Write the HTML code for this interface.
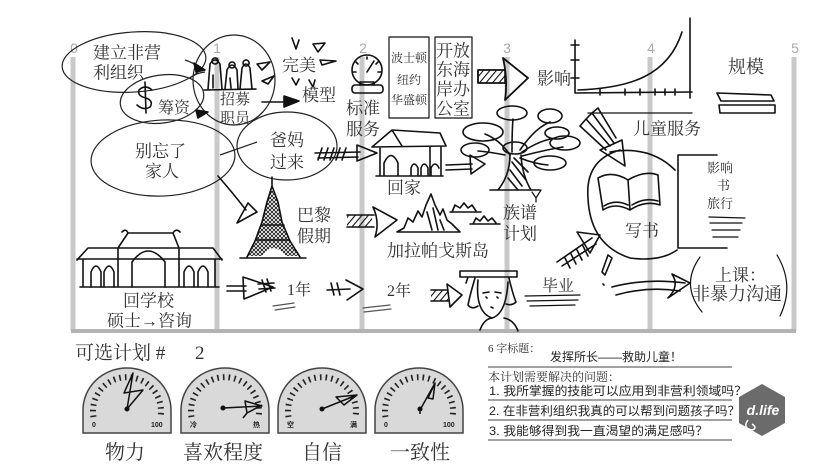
<!DOCTYPE html>
<html><head><meta charset="utf-8">
<style>
html,body{margin:0;padding:0;background:#fff;}
svg{display:block;}
.t{font-family:"Liberation Serif","Noto Serif CJK SC",serif;fill:#333;}
.s{font-family:"Liberation Sans","Noto Sans CJK SC",sans-serif;}
</style></head><body>
<svg width="836" height="470" viewBox="0 0 836 470" xmlns="http://www.w3.org/2000/svg">
<defs>
<pattern id="h" patternUnits="userSpaceOnUse" width="5" height="5" patternTransform="rotate(40)"><line x1="0" y1="0" x2="0" y2="5" stroke="#111" stroke-width="2.2"/></pattern>
<pattern id="x" patternUnits="userSpaceOnUse" width="4" height="4"><path d="M0 0L4 4M4 0L0 4" stroke="#111" stroke-width="0.8"/></pattern>
</defs>
<rect width="836" height="470" fill="#fff"/>

<!-- grid bars -->
<g stroke="#c9c9c9" stroke-width="5">
<line x1="73" y1="57" x2="73" y2="331"/>
<line x1="217" y1="57" x2="217" y2="331"/>
<line x1="362" y1="57" x2="362" y2="331"/>
<line x1="507" y1="57" x2="507" y2="331"/>
<line x1="650" y1="57" x2="650" y2="331"/>
<line x1="794" y1="57" x2="794" y2="331"/>
</g>
<line x1="71" y1="331" x2="796" y2="331" stroke="#b3b3b3" stroke-width="4"/>
<g class="s" font-size="14" fill="#aaa" text-anchor="middle">
<text x="74" y="53">0</text><text x="217" y="53">1</text><text x="363" y="53">2</text>
<text x="507" y="53">3</text><text x="651" y="53">4</text><text x="795" y="53">5</text>
</g>

<g fill="none" stroke="#222" stroke-width="1.2">
<!-- ellipses -->
<ellipse cx="134" cy="62" rx="72" ry="30" transform="rotate(-4 134 62)"/>
<ellipse cx="162" cy="99" rx="42" ry="24" transform="rotate(-8 162 99)"/>
<ellipse cx="234" cy="80" rx="41" ry="45"/>
<ellipse cx="163" cy="158" rx="72" ry="38" transform="rotate(-3 163 158)"/>
<ellipse cx="287" cy="146" rx="50" ry="34"/>
<path d="M220 155 L257 142"/>
<path d="M185 60 Q192 62 200 68"/>
<path d="M190 78 Q196 73 205 72"/>
</g>

<g fill="none" stroke="#111" stroke-width="1.6" stroke-linecap="round" stroke-linejoin="round">
<!-- arrowheads top-left -->
<path d="M194 63 L205 70 L196 72 Z" fill="#111"/>
<path d="M196 110 L208 112 L198 118 Z" fill="#111"/>
<!-- $ sign -->
<path d="M152 90 Q145 84 139 90 Q137 96 146 98 Q154 101 150 107 Q144 111 137 105 M145 82 L146 113"/>
<!-- people -->
<path d="M208 89 L210 64 Q215 56 220 64 L222 89 M215 58 a3 3 0 1 0 0.1 0 M225 89 L227 70 Q232 60 237 70 L238 89 M232 62 a3 3 0 1 0 0.1 0 M240 89 L242 68 Q246 60 250 68 L252 89 M246 60 a3 3 0 1 0 0.1 0 M204 90 L256 89 M213 75 L213 88 M230 78 L231 88"/>
<!-- star around 完美 -->
<path d="M292 38 L296 49 L299 40 M313 44 L325 43 L318 52 Z M257 64 L270 62 L262 70 Z M262 81 L274 76 L268 84 Z M320 60 L336 61 L322 65 Z M292 78 L296 85 L299 79 M309 80 L313 87 L315 80"/>
<!-- black arrow to 模型 -->
<path d="M262 102 L286 102"/>
<path d="M284 96 L299 101 L284 107 Z" fill="#111"/>
<!-- hatched arrow 爸妈 -> 回家 -->
<path d="M315 153 L360 152 M318 158 L358 157"/>
<path d="M322 148 L318 160 M328 148 L324 160 M334 148 L330 160 M340 148 L336 160 M346 148 L342 160"/>
<path d="M357 145 L377 153 L357 161 Z"/>
<!-- clock -->
<circle cx="367" cy="70" r="15"/>
<path d="M367 72 L374 61 M356 62 L358 64 M367 57 L367 59 M378 62 L376 64 M353 72 L356 72 M381 72 L378 72"/>
<rect x="352" y="85" width="31" height="8" rx="3"/>
<path d="M360 85 L360 82 L374 82 L374 85"/>
<!-- boxes -->
<path d="M389 37 L429 37 L429 118 L389 118 Z" stroke-width="1.2"/>
<path d="M435 37 L472 37 L472 118 L435 118 Z" stroke-width="1.2"/>
<!-- hatched arrow 3 -->
<rect x="478" y="70" width="27" height="13" fill="url(#h)"/>
<path d="M478 70 L505 70 M478 83 L505 83 M478 70 L478 83"/>
<path d="M503 58 L528 78 L505 100 Q508 80 503 58 Z" stroke-width="1.8"/>
<!-- chart -->
<path d="M575 40 L575 93 L692 92 M571 45 L579 45 M571 60 L579 60 M571 78 L579 78 M600 89 L600 95 M625 89 L625 95 M640 89 L640 95 M655 89 L655 95 M665 89 L665 95 M675 89 L675 95"/>
<path d="M578 90 C630 88 668 76 682 32"/>
<path d="M690 18 L690 98"/>
<path d="M588 113 L692 113" stroke-width="1.3"/>
<!-- bars under 规模 -->
<path d="M717 93 L771 95 L774 101 L721 101 Z M719 105 L775 105 L775 113 L720 113 Z"/>
<!-- house 回家 -->
<path d="M372 147 L392 130 L440 133 L446 146 Z M392 130 L402 146 M380 147 L380 176 M430 147 L430 176 M441 146 L441 176 M376 176 L443 176 M384 176 L384 163 Q391 148 398 163 L398 176 M411 176 L411 168 Q414 160 418 168 L418 176 M421 176 L421 168 Q424 160 428 168 L428 176 M431 176 L431 168 Q435 160 439 168"/>
<!-- tree -->
<path d="M498 190 Q510 175 510 155 M531 190 Q522 175 521 155 M490 190 L540 190"/>
<path d="M512 162 L526 180 M510 170 L522 186 M508 178 L518 190 M514 158 L528 172"/>
<path d="M510 155 Q500 140 485 134 M512 152 Q512 130 513 119 M520 150 Q535 128 550 122 M522 152 Q540 140 556 138 M522 156 Q545 150 563 147 M520 158 Q535 164 548 165 M505 155 Q490 152 478 151"/>
<ellipse cx="512" cy="113" rx="15" ry="7"/>
<ellipse cx="483" cy="132" rx="20" ry="9"/>
<ellipse cx="475" cy="150" rx="14" ry="7"/>
<ellipse cx="550" cy="116" rx="12" ry="7"/>
<ellipse cx="557" cy="133" rx="12" ry="6"/>
<ellipse cx="565" cy="143" rx="15" ry="7"/>
<ellipse cx="550" cy="163" rx="16" ry="7"/>
<ellipse cx="515" cy="148" rx="12" ry="6"/>
<!-- arrow from 回家 to tree -->
<path d="M446 165 L472 164 M446 170 L472 169"/>
<path d="M470 155 L485 164 L471 174 Z"/>
<!-- wedge arrow into 写书 -->
<path d="M580 126 L606 150 M586 119 L610 146 M592 113 L614 143 M598 108 L616 138 M580 126 Q590 114 598 108"/>
<path d="M600 150 L622 140 L625 166 Z"/>
<!-- big circle 写书 -->
<path d="M610 152 Q650 145 675 170 M588 198 Q585 160 620 150 M588 198 Q590 245 630 258 Q660 262 677 250"/>
<!-- book -->
<path d="M598 178 Q612 170 628 180 L630 210 Q615 202 603 210 Z M628 180 Q645 170 658 175 L660 205 Q645 200 630 210 M604 206 Q615 199 628 205 M632 205 Q645 197 658 201"/>
<!-- bracket -->
<path d="M678 155 L717 155 M678 155 L678 248 L727 248"/>
<path d="M709 217 L745 218 M710 223 L742 223 M712 230 L740 230 M713 237 L738 237" stroke-width="1.3"/>
<!-- parens around 上课 -->
<path d="M700 257 Q680 285 702 312" stroke-width="1.2"/>
<path d="M777 255 Q795 285 780 316" stroke-width="1.2"/>
<!-- pen & arrow to 上课 -->
<path d="M608 255 L602 272 L605 275 L612 258 Z M603 284 L604 285"/>
<path d="M612 287 Q645 278 685 283 M616 295 Q648 286 680 291"/>
<path d="M672 274 L690 283 L668 298 Q680 286 672 274 Z"/>
<!-- hatched arrow to 写书 from bottom -->
<path d="M557 262 L592 238 M562 266 L596 244 M565 258 L570 268 M571 254 L576 264 M577 250 L582 260 M583 246 L588 256"/>
<path d="M577 232 L600 235 L590 253 Z"/>
<!-- eiffel -->
<path d="M272 186 L272 177 M272 186 L267 202 L262 222 L255 241 L247 257 M272 186 L278 202 L282 222 L290 241 L300 257 M240 258 L306 258 M261 225 L284 225 M257 240 L289 240"/>
<path d="M272 186 L267 202 L262 222 L255 241 L248 256 L262 256 Q273 240 286 256 L299 256 L290 241 L282 222 L278 202 Z" fill="url(#x)" stroke="none"/>
<!-- arrow to 巴黎 -->
<path d="M218 176 Q232 192 246 210"/>
<path d="M237 223 L257 212 L248 203 Z"/>
<!-- hatched arrow 巴黎 -> 加拉帕戈斯 -->
<rect x="347" y="215" width="25" height="12" fill="url(#h)" stroke="none"/>
<path d="M347 215 L374 215 M347 227 L374 227"/>
<path d="M373 207 L397 220 L375 237 Q380 222 373 207 Z"/>
<!-- mountains -->
<path d="M397 232 L404 228 L408 218 L413 222 L418 211 L422 217 L426 205 L431 194 L435 205 L440 215 L443 209 L447 220 L452 224 L460 232 Z"/>
<path d="M427 212 L432 230 M433 208 L438 230 M440 220 L444 230"/>
<path d="M452 212 L455 205 L460 208 L464 203 L468 208 L472 205 L476 211 M450 212 L481 212 M473 224 L476 218 L480 221 L484 216 L488 221 L492 218 L496 223 M470 224 L500 224"/>
<path d="M532 192 L536 198 L541 190 M536 198 L536 202" stroke-width="1.2"/>
<!-- building 回学校 -->
<path d="M122 232 Q126 228 128 233 L173 233 Q176 228 180 232 M128 233 L118 248 M173 233 L179 248 M77 260 L88 248 L213 248 L222 260 M77 259 L222 259 M83 259 L83 287 M118 248 L118 287 M179 248 L179 287 M215 259 L215 287 M80 287 L219 287"/>
<path d="M132 287 L132 262 Q148 240 165 262 L165 287 M91 287 L91 272 Q96 260 101 272 L101 287 M104 287 L104 272 Q109 260 114 272 L114 287 M184 287 L184 272 Q189 260 194 272 L194 287 M198 287 L198 272 Q203 260 208 272 L208 287"/>
<!-- 1年 arrow -->
<path d="M227 286 L246 286 M227 291 L246 291"/>
<path d="M243 277 L273 287 L244 299 Z"/>
<path d="M262 280 L266 292 M267 279 L271 291 M258 284 L274 283 M259 289 L275 288"/>
<path d="M273 306 L294 303 M275 310 L295 307" stroke="#555" stroke-width="1.2"/>
<!-- second arrow -->
<path d="M327 290 L350 289 M331 283 L334 295 M337 283 L340 295"/>
<path d="M346 280 L363 289 L347 300"/>
<path d="M363 308 L390 305 M364 312 L391 309" stroke="#555" stroke-width="1.2"/>
<!-- hatched arrow to grad -->
<rect x="431" y="290" width="17" height="11" fill="url(#h)" stroke="none"/>
<path d="M431 290 L448 290 M431 301 L448 301"/>
<path d="M447 284 L462 295 L450 307 Z"/>
<!-- grad -->
<path d="M460 271 L517 271 L517 277 L460 277 Z M468 277 L466 283 M475 278 Q470 295 468 305 Q472 310 478 306 M509 278 Q513 295 516 302 Q512 306 506 304"/>
<path d="M478 280 Q475 312 492 318 Q506 314 508 282"/>
<path d="M483 293 L489 292 M495 292 L501 293 M486 297 L487 298 M497 297 L498 298 M491 307 L493 308"/>
<path d="M480 330 Q484 319 492 318 M504 318 Q514 320 518 331"/>
<!-- 毕业 lines -->
<path d="M525 296 L580 295 M527 301 L578 300 M530 306 L575 305" stroke-width="1.2"/>
</g>

<!-- labels -->
<g class="t">
<text x="93" y="58.5" font-size="17">建立非营</text>
<text x="93" y="78.5" font-size="17">利组织</text>
<text x="158" y="113" font-size="16">筹资</text>
<text x="220" y="104" font-size="15">招募</text>
<text x="220" y="123" font-size="15">职员</text>
<text x="282" y="71" font-size="17">完美</text>
<text x="302" y="101" font-size="17">模型</text>
<text x="135" y="157" font-size="17">别忘了</text>
<text x="145" y="177" font-size="17">家人</text>
<text x="270" y="146" font-size="17">爸妈</text>
<text x="270" y="168" font-size="17">过来</text>
<text x="346" y="114" font-size="17">标准</text>
<text x="346" y="135" font-size="17">服务</text>
<text x="409" y="62" font-size="12" text-anchor="middle">波士顿</text>
<text x="409" y="84" font-size="12" text-anchor="middle">纽约</text>
<text x="409" y="104" font-size="12" text-anchor="middle">华盛顿</text>
<text x="436" y="56.5" font-size="17">开放</text>
<text x="436" y="75.5" font-size="17">东海</text>
<text x="436" y="95" font-size="17">岸办</text>
<text x="436" y="114.5" font-size="17">公室</text>
<text x="537" y="84.5" font-size="17">影响</text>
<text x="728" y="73" font-size="18">规模</text>
<text x="633" y="134.5" font-size="17">儿童服务</text>
<text x="387" y="193.5" font-size="17">回家</text>
<text x="297" y="221" font-size="17">巴黎</text>
<text x="297" y="242" font-size="17">假期</text>
<text x="387" y="256.5" font-size="17">加拉帕戈斯岛</text>
<text x="503" y="218.5" font-size="17">族谱</text>
<text x="503" y="239.5" font-size="17">计划</text>
<text x="625" y="236.5" font-size="17">写书</text>
<text x="707" y="172.5" font-size="13">影响</text>
<text x="717" y="190" font-size="13">书</text>
<text x="707" y="208" font-size="13">旅行</text>
<text x="715" y="281" font-size="17">上课：</text>
<text x="692" y="300" font-size="18">非暴力沟通</text>
<text x="123" y="306.5" font-size="17">回学校</text>
<text x="107" y="326.5" font-size="17">硕士→咨询</text>
<text x="287" y="295" font-size="16">1年</text>
<text x="387" y="296" font-size="16">2年</text>
<text x="542" y="291" font-size="16">毕业</text>
<text x="75" y="359" font-size="19">可选计划 #</text>
<text x="195" y="359" font-size="19">2</text>
<text x="125" y="459" font-size="20" text-anchor="middle">物力</text>
<text x="223" y="459" font-size="20" text-anchor="middle">喜欢程度</text>
<text x="322" y="459" font-size="20" text-anchor="middle">自信</text>
<text x="420" y="459" font-size="20" text-anchor="middle">一致性</text>
</g>

<!-- gauges -->
<g>
<path d="M83 433 L83 410 A44 42 0 0 1 171 410 L171 433 Z" fill="#d9d9d9" stroke="#444" stroke-width="1.5"/>
<path d="M181 433 L181 410 A44 42 0 0 1 269 410 L269 433 Z" fill="#d9d9d9" stroke="#444" stroke-width="1.5"/>
<path d="M278 433 L278 410 A44 42 0 0 1 366 410 L366 433 Z" fill="#d9d9d9" stroke="#444" stroke-width="1.5"/>
<path d="M375 433 L375 410 A44 42 0 0 1 463 410 L463 433 Z" fill="#d9d9d9" stroke="#444" stroke-width="1.5"/>
<g fill="none" stroke="#222" stroke-width="6" stroke-dasharray="1.6 4.1">
<path d="M93.5 417 A34 34 0 1 1 160.5 417"/>
<path d="M191.5 417 A34 34 0 1 1 258.5 417"/>
<path d="M288.5 417 A34 34 0 1 1 355.5 417"/>
<path d="M385.5 417 A34 34 0 1 1 452.5 417"/>
</g>
<g class="s" font-size="7" fill="#222" font-weight="bold">
<text x="92" y="427">0</text><text x="151" y="427">100</text>
<text x="190" y="427">冷</text><text x="253" y="427">热</text>
<text x="287" y="427">空</text><text x="350" y="427">满</text>
<text x="384" y="427">0</text><text x="443" y="427">100</text>
</g>
<g fill="none" stroke="#111" stroke-width="1.5" stroke-linejoin="round">
<path d="M127 409 L133 373 L124 393 L143 390 Z"/>
<circle cx="127" cy="409" r="1.8" fill="#111"/>
<path d="M223 408 L262 406 L245 401 L247 413 L262 405 M247 413 L243 418"/>
<circle cx="223" cy="408" r="1.8" fill="#111"/>
<path d="M322 409 L357 395 L336 397 L344 405 L357 395"/>
<circle cx="322" cy="409" r="1.8" fill="#111"/>
<path d="M420 410 L435 383 L428 398 L433 399 L435 383 M420 410 L420 414"/>
<circle cx="420" cy="409" r="1.8" fill="#111"/>
</g>
</g>

<!-- bottom right text -->
<text x="488" y="352" class="t" font-size="11" fill="#555">6 字标题：</text>
<text x="550" y="361" class="s" font-size="12" fill="#222">发挥所长——救助儿童！</text>
<g stroke="#444" stroke-width="1">
<line x1="488" y1="367" x2="732" y2="367"/>
<line x1="488" y1="400" x2="732" y2="400"/>
<line x1="488" y1="420" x2="732" y2="420"/>
<line x1="488" y1="440" x2="732" y2="440"/>
</g>
<text x="488" y="381" class="t" font-size="12" fill="#999">本计划需要解决的问题：</text>
<g class="s" font-size="12" fill="#222">
<text x="489" y="395" textLength="258" lengthAdjust="spacingAndGlyphs">1. 我所掌握的技能可以应用到非营利领域吗？</text>
<text x="489" y="415" textLength="251" lengthAdjust="spacingAndGlyphs">2. 在非营利组织我真的可以帮到问题孩子吗？</text>
<text x="489" y="435" textLength="219" lengthAdjust="spacingAndGlyphs">3. 我能够得到我一直渴望的满足感吗？</text>
</g>
<!-- d.life logo -->
<polygon points="762,384 785,397 785,423 762,436 739,423 739,397" fill="#6b6b6b"/>
<text x="763" y="415" class="s" font-size="14" font-weight="bold" font-style="italic" fill="#fff" text-anchor="middle">d.life</text>
<path d="M748 420 Q742 428 752 430 Q758 428 752 424" fill="none" stroke="#fff" stroke-width="1.5"/>
</svg>
</body></html>
